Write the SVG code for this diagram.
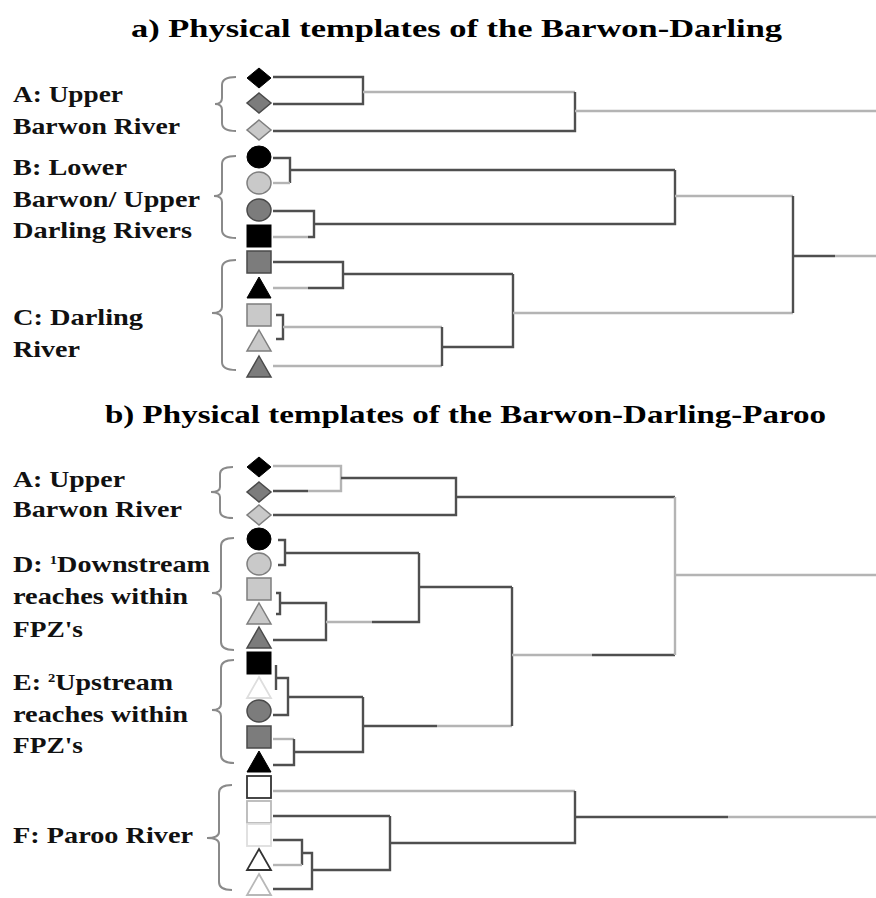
<svg xmlns="http://www.w3.org/2000/svg" width="876" height="898" viewBox="0 0 876 898">
  <style>
    .title { font-family: "Liberation Serif", "Times New Roman", serif; font-weight: bold; font-size: 26px; fill: #000; }
    .lab { font-family: "Liberation Serif", "Times New Roman", serif; font-weight: bold; font-size: 23px; fill: #111; }
    .sup { font-size: 12px; }
    .brace { fill: none; stroke: #8a8a8a; stroke-width: 2; }
    .dk { fill: none; stroke: #4f4f4f; stroke-width: 2.4; }
    .lt { fill: none; stroke: #b4b4b4; stroke-width: 2.4; }
    .blk { fill: #000; stroke: #000; stroke-width: 1; }
    .gry { fill: #7c7c7c; stroke: #4a4a4a; stroke-width: 1.5; }
    .lgt { fill: #c9c9c9; stroke: #7e7e7e; stroke-width: 1.5; }
    .wd { fill: #fff; stroke: #333; stroke-width: 1.8; }
    .wm { fill: #fff; stroke: #b8b8b8; stroke-width: 1.8; }
    .wl { fill: #fff; stroke: #dedede; stroke-width: 1.8; }
  </style>
  <defs>
    <polygon id="dia" points="0,-10 12,0 0,10 -12,0"/>
    <ellipse id="cir" cx="0" cy="0" rx="12" ry="11"/>
    <rect id="sq" x="-12" y="-11" width="24" height="22"/>
    <polygon id="tri" points="0,-11 12,10 -12,10"/>
  </defs>
  <rect width="876" height="898" fill="#fff"/>

  <!-- titles -->
  <text class="title" x="131" y="37" textLength="651" lengthAdjust="spacingAndGlyphs">a) Physical templates of the Barwon-Darling</text>
  <text class="title" x="105" y="423" textLength="721" lengthAdjust="spacingAndGlyphs">b) Physical templates of the Barwon-Darling-Paroo</text>

  <!-- cluster labels, panel a -->
  <g id="a-group-A">
    <text class="lab" x="13" y="102" textLength="110" lengthAdjust="spacingAndGlyphs">A: Upper</text>
    <text class="lab" x="13" y="134" textLength="167" lengthAdjust="spacingAndGlyphs">Barwon River</text>
    <path class="brace" d="M236,77 Q222,77 222,85 L222,98 Q222,104 215,104 Q222,104 222,110 L222,123 Q222,131 236,131"/>
  </g>
  <g id="a-group-B">
    <text class="lab" x="13" y="175" textLength="114" lengthAdjust="spacingAndGlyphs">B: Lower</text>
    <text class="lab" x="13" y="207" textLength="187" lengthAdjust="spacingAndGlyphs">Barwon/ Upper</text>
    <text class="lab" x="13" y="238" textLength="179" lengthAdjust="spacingAndGlyphs">Darling Rivers</text>
    <path class="brace" d="M236,156 Q222,156 222,164 L222,190 Q222,196 214,196 Q222,196 222,202 L222,230 Q222,238 236,238"/>
  </g>
  <g id="a-group-C">
    <text class="lab" x="13" y="325" textLength="130" lengthAdjust="spacingAndGlyphs">C: Darling</text>
    <text class="lab" x="13" y="357" textLength="67" lengthAdjust="spacingAndGlyphs">River</text>
    <path class="brace" d="M236,260 Q222,260 222,268 L222,307 Q222,313 212,313 Q222,313 222,319 L222,362 Q222,370 236,370"/>
  </g>

  <!-- cluster labels, panel b -->
  <g id="b-group-A">
    <text class="lab" x="13" y="487" textLength="112" lengthAdjust="spacingAndGlyphs">A: Upper</text>
    <text class="lab" x="13" y="517" textLength="169" lengthAdjust="spacingAndGlyphs">Barwon River</text>
    <path class="brace" d="M233,467 Q220,467 220,474 L220,487 Q220,492 211,492 Q220,492 220,497 L220,511 Q220,518 233,518"/>
  </g>
  <g id="b-group-D">
    <text class="lab" x="13" y="572" textLength="197" lengthAdjust="spacingAndGlyphs">D: <tspan class="sup" dy="-8">1</tspan><tspan dy="8">Downstream</tspan></text>
    <text class="lab" x="13" y="604" textLength="175" lengthAdjust="spacingAndGlyphs">reaches within</text>
    <text class="lab" x="13" y="637" textLength="70" lengthAdjust="spacingAndGlyphs">FPZ's</text>
    <path class="brace" d="M234,538 Q221,538 221,546 L221,587 Q221,593 212,593 Q221,593 221,599 L221,642 Q221,650 234,650"/>
  </g>
  <g id="b-group-E">
    <text class="lab" x="13" y="690" textLength="160" lengthAdjust="spacingAndGlyphs">E: <tspan class="sup" dy="-8">2</tspan><tspan dy="8">Upstream</tspan></text>
    <text class="lab" x="13" y="722" textLength="175" lengthAdjust="spacingAndGlyphs">reaches within</text>
    <text class="lab" x="13" y="753" textLength="70" lengthAdjust="spacingAndGlyphs">FPZ's</text>
    <path class="brace" d="M234,660 Q221,660 221,668 L221,704 Q221,710 212,710 Q221,710 221,716 L221,755 Q221,763 234,763"/>
  </g>
  <g id="b-group-F">
    <text class="lab" x="13" y="843" textLength="180" lengthAdjust="spacingAndGlyphs">F: Paroo River</text>
    <path class="brace" d="M232,785 Q219,785 219,793 L219,832 Q219,838 207,838 Q219,838 219,844 L219,882 Q219,890 232,890"/>
  </g>

  <!-- leaf symbols, panel a -->
  <g id="a-leaves">
    <g id="a1"><use href="#dia" class="blk" x="259" y="78"/></g>
    <g id="a2"><use href="#dia" class="gry" x="259" y="103"/></g>
    <g id="a3"><use href="#dia" class="lgt" x="259" y="130"/></g>
    <g id="a4"><use href="#cir" class="blk" x="259" y="157"/></g>
    <g id="a5"><use href="#cir" class="lgt" x="259" y="183"/></g>
    <g id="a6"><use href="#cir" class="gry" x="259" y="210"/></g>
    <g id="a7"><use href="#sq" class="blk" x="259" y="236"/></g>
    <g id="a8"><use href="#sq" class="gry" x="259" y="262"/></g>
    <g id="a9"><use href="#tri" class="blk" x="259" y="288"/></g>
    <g id="a10"><use href="#sq" class="lgt" x="259" y="315"/></g>
    <g id="a11"><use href="#tri" class="lgt" x="259" y="341"/></g>
    <g id="a12"><use href="#tri" class="gry" x="259" y="367"/></g>
  </g>

  <!-- leaf symbols, panel b -->
  <g id="b-leaves">
    <g id="b1"><use href="#dia" class="blk" x="259" y="467"/></g>
    <g id="b2"><use href="#dia" class="gry" x="259" y="492"/></g>
    <g id="b3"><use href="#dia" class="lgt" x="259" y="515"/></g>
    <g id="b4"><use href="#cir" class="blk" x="259" y="539"/></g>
    <g id="b5"><use href="#cir" class="lgt" x="259" y="564"/></g>
    <g id="b6"><use href="#sq" class="lgt" x="259" y="589"/></g>
    <g id="b7"><use href="#tri" class="lgt" x="259" y="614"/></g>
    <g id="b8"><use href="#tri" class="gry" x="259" y="638"/></g>
    <g id="b9"><use href="#sq" class="blk" x="259" y="663"/></g>
    <g id="b10"><use href="#tri" class="wl" x="259" y="688"/></g>
    <g id="b11"><use href="#cir" class="gry" x="259" y="711"/></g>
    <g id="b12"><use href="#sq" class="gry" x="259" y="737"/></g>
    <g id="b13"><use href="#tri" class="blk" x="259" y="762"/></g>
    <g id="b14"><use href="#sq" class="wd" x="259" y="787"/></g>
    <g id="b15"><use href="#sq" class="wm" x="259" y="812"/></g>
    <g id="b16"><use href="#sq" class="wl" x="259" y="835"/></g>
    <g id="b17"><use href="#tri" class="wd" x="259" y="860"/></g>
    <g id="b18"><use href="#tri" class="wm" x="259" y="885"/></g>
  </g>

  <!-- dendrogram connectors -->
  <g id="connectors">
    <!-- panel a: group A -->
    <path class="dk" d="M273,77 H363 V104 H273"/>
    <path class="lt" d="M363,92 H575"/>
    <path class="dk" d="M273,131 H575 V92"/>
    <path class="lt" d="M575,111 H876"/>
    <!-- panel a: group B -->
    <path class="dk" d="M273,158 H290 V183"/>
    <path class="lt" d="M273,183 H290"/>
    <path class="dk" d="M290,170 H675"/>
    <path class="dk" d="M273,211 H314 V237 H308"/>
    <path class="lt" d="M273,237 H308"/>
    <path class="dk" d="M314,224 H675 V170"/>
    <path class="lt" d="M675,196 H793"/>
    <!-- panel a: group C -->
    <path class="dk" d="M273,262 H343 V288 H308"/>
    <path class="lt" d="M273,288 H308"/>
    <path class="dk" d="M343,274 H513"/>
    <path class="dk" d="M276,315 H283 V339 H276"/>
    <path class="lt" d="M283,327 H442"/>
    <path class="lt" d="M273,366 H442"/>
    <path class="dk" d="M442,327 V366"/>
    <path class="dk" d="M442,347 H513 V274"/>
    <path class="lt" d="M513,313 H793"/>
    <path class="dk" d="M793,196 V313"/>
    <path class="dk" d="M793,256 H835"/>
    <path class="lt" d="M835,256 H876"/>

    <!-- panel b: group A -->
    <path class="lt" d="M273,466 H341 V491 H308"/>
    <path class="dk" d="M273,491 H308"/>
    <path class="dk" d="M341,478 H456 V515 H273"/>
    <path class="dk" d="M456,497 H675"/>
    <!-- panel b: group D -->
    <path class="dk" d="M278,540 H285 V565 H278"/>
    <path class="dk" d="M285,553 H419"/>
    <path class="dk" d="M276,593 H280 V614 H276"/>
    <path class="dk" d="M280,603 H326 V640 H273"/>
    <path class="lt" d="M326,622 H372"/>
    <path class="dk" d="M372,622 H419 V553"/>
    <path class="dk" d="M419,587 H512"/>
    <!-- panel b: group E -->
    <path class="dk" d="M276,665 V690"/>
    <path class="dk" d="M276,678 H288 V715 H273"/>
    <path class="dk" d="M288,697 H363"/>
    <path class="lt" d="M273,739 H294"/>
    <path class="dk" d="M294,739 V765 H273"/>
    <path class="dk" d="M294,752 H363 V697"/>
    <path class="dk" d="M363,726 H437"/>
    <path class="lt" d="M437,726 H512"/>
    <path class="dk" d="M512,587 V726"/>
    <path class="lt" d="M512,655 H592"/>
    <path class="dk" d="M592,655 H675"/>
    <path class="lt" d="M675,497 V655"/>
    <path class="lt" d="M675,575 H876"/>
    <!-- panel b: group F -->
    <path class="lt" d="M273,791 H575"/>
    <path class="dk" d="M273,816 H390"/>
    <path class="dk" d="M273,840 H302 V865"/>
    <path class="lt" d="M273,865 H302"/>
    <path class="dk" d="M302,853 H312 V889 H273"/>
    <path class="dk" d="M312,870 H390 V816"/>
    <path class="dk" d="M390,843 H575 V791"/>
    <path class="dk" d="M575,817 H728"/>
    <path class="lt" d="M728,817 H876"/>
  </g>
</svg>
